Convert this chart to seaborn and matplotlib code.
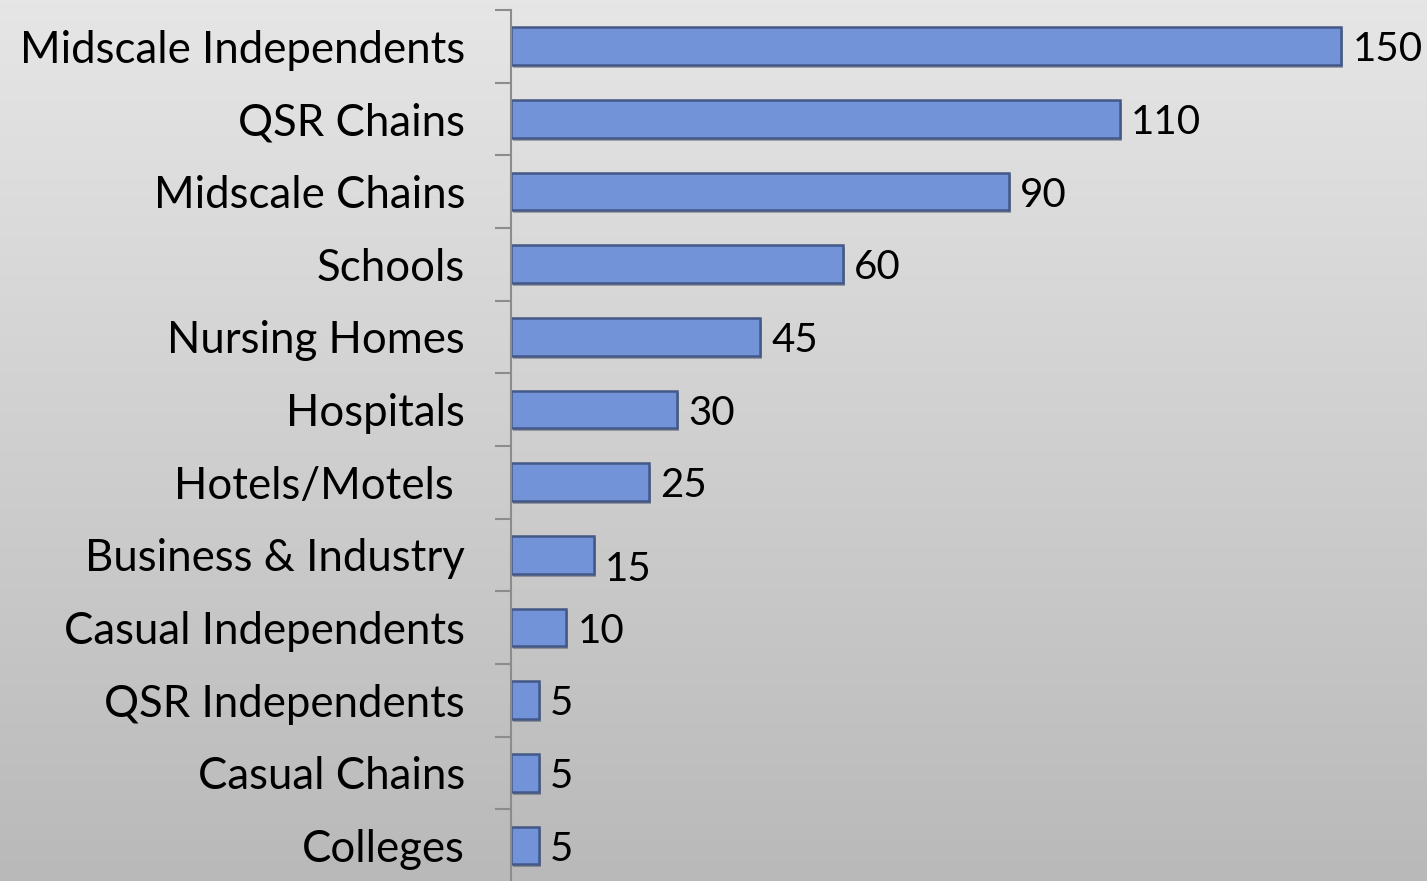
import numpy as np
import pandas as pd
import matplotlib
matplotlib.use("Agg")
import matplotlib.pyplot as plt
import matplotlib.patheffects as pe
import seaborn as sns

segments = ["Midscale Independents", "QSR Chains", "Midscale Chains", "Schools",
            "Nursing Homes", "Hospitals", "Hotels/Motels ", "Business & Industry",
            "Casual Independents", "QSR Independents", "Casual Chains", "Colleges"]
counts = [150, 110, 90, 60, 45, 30, 25, 15, 10, 5, 5, 5]

df = pd.DataFrame({"segment": segments, "count": counts})

sns.set_style("white")
plt.rcParams['font.family'] = ['Lato', 'DejaVu Sans']

fig = plt.figure(figsize=(14.27, 8.81), dpi=100)

# gray gradient background
bg = fig.add_axes([0, 0, 1, 1], zorder=-10)
grad = np.linspace(0, 1, 256).reshape(-1, 1)
bg.imshow(grad, aspect="auto", cmap=matplotlib.colors.LinearSegmentedColormap.from_list(
    "g", ["#e6e6e6", "#b9b9b9"]), extent=[0, 1, 0, 1], origin="upper")
bg.axis("off")

ax = fig.add_axes([0.358, -0.001, 0.642, 0.9897])
ax.patch.set_alpha(0)
sns.barplot(data=df, x="count", y="segment", ax=ax, color="#7393d8",
            edgecolor="#435886", linewidth=1.8, width=0.52, saturation=1)
for p in ax.patches:
    p.set_path_effects([pe.SimplePatchShadow(offset=(1.5, -2), alpha=0.35), pe.Normal()])

ax.set_xlim(0, 165.5)
ax.set_ylim(len(segments) - 0.5, -0.5)
ax.set_xlabel("")
ax.set_ylabel("")
ax.set_xticks([])
for s in ["top", "right", "bottom"]:
    ax.spines[s].set_visible(False)
ax.spines["left"].set_color("#8c8c8c")
ax.spines["left"].set_linewidth(1.5)

ax.set_yticks(np.arange(-0.5, len(segments), 1), minor=True)
ax.tick_params(axis="y", which="minor", left=True, length=11.5, width=1.5, color="#8c8c8c")
ax.tick_params(axis="y", which="major", left=True, length=0, pad=33, labelsize=31.5,
               labelcolor="black")

for i, v in enumerate(counts):
    dy = 0.2 if v == 15 else 0.05
    ax.text(v + 2.0, i + dy, str(v), va="center", ha="left", fontsize=29, color="black")

fig.savefig("out.png", dpi=100)
